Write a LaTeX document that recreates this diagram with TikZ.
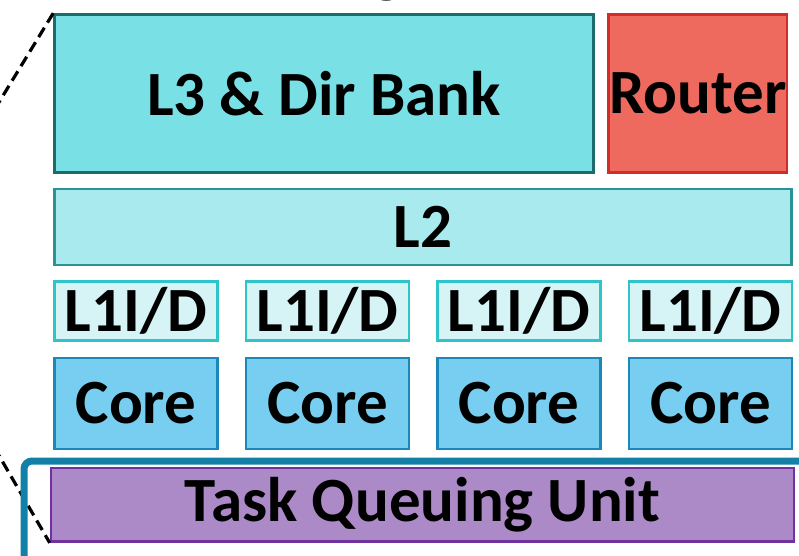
\documentclass[tikz,border=0pt]{standalone}
\usepackage{fontspec}
\setmainfont{Carlito}
\begin{document}
\begin{tikzpicture}[x=1pt,y=-1pt,
  blk/.style={draw, line width=2.6pt, inner sep=0pt, font=\fontsize{63}{70}\selectfont\bfseries, text=black},
  l3box/.style={blk, fill={rgb,255:red,121;green,224;blue,230}, draw={rgb,255:red,30;green,107;blue,110}},
  routerbox/.style={blk, fill={rgb,255:red,238;green,105;blue,94}, draw={rgb,255:red,208;green,44;blue,44}},
  l2box/.style={blk, fill={rgb,255:red,168;green,234;blue,238}, draw={rgb,255:red,42;green,147;blue,152}},
  l1box/.style={blk, fill={rgb,255:red,214;green,244;blue,245}, draw={rgb,255:red,46;green,196;blue,202}, minimum width=163pt, minimum height=59pt},
  corebox/.style={blk, fill={rgb,255:red,120;green,206;blue,240}, draw={rgb,255:red,26;green,136;blue,184}, minimum width=163pt, minimum height=91pt},
  tqubox/.style={blk, fill={rgb,255:red,172;green,138;blue,200}, draw={rgb,255:red,112;green,48;blue,160}},
  zoomline/.style={line width=3.2pt, dash pattern=on 11pt off 6pt, black},
  frameline/.style={line width=7pt, draw={rgb,255:red,19;green,128;blue,168}, rounded corners=8pt}
]
\useasboundingbox (0,0) rectangle (799,555);

% descender of the cut-off heading above the tile
\node[anchor=base, font=\fontsize{63}{70}\selectfont\bfseries] (head) at (387,-9.5) {g};

% zoom lines towards the enlarged tile
\coordinate (zt) at (-10,117);
\coordinate (zb) at (-6,447);

% tile outline
\coordinate (fa) at (24,560);
\coordinate (fb) at (24,461);
\coordinate (fc) at (805,461);

% L3 bank and router
\node[l3box, minimum width=539pt, minimum height=158pt] (l3) at (324,93.5) {L3 \& Dir Bank};
\node[routerbox, minimum width=178.5pt, minimum height=158pt] (router) at (697.75,93.5) {Router};

% shared L2
\node[l2box, minimum width=737pt, minimum height=76pt] (l2) at (423,227) {L2};

% private L1 caches and cores
\foreach \i/\cx in {1/136, 2/327.5, 3/519, 4/710.5} {
  \node[l1box] (l1-\i) at (\cx,311) {L1I/D};
  \node[corebox] (core-\i) at (\cx,403.5) {Core};
}

% task queuing unit
\node[tqubox, minimum width=743pt, minimum height=73.5pt] (tqu) at (422.5,504.75) {Task Queuing Unit};

\draw[zoomline] (l3.north west) -- (zt);
\draw[zoomline] (zb) -- (tqu.south west);
\draw[frameline] (fa) -- (fb) -- (fc);
\end{tikzpicture}
\end{document}
